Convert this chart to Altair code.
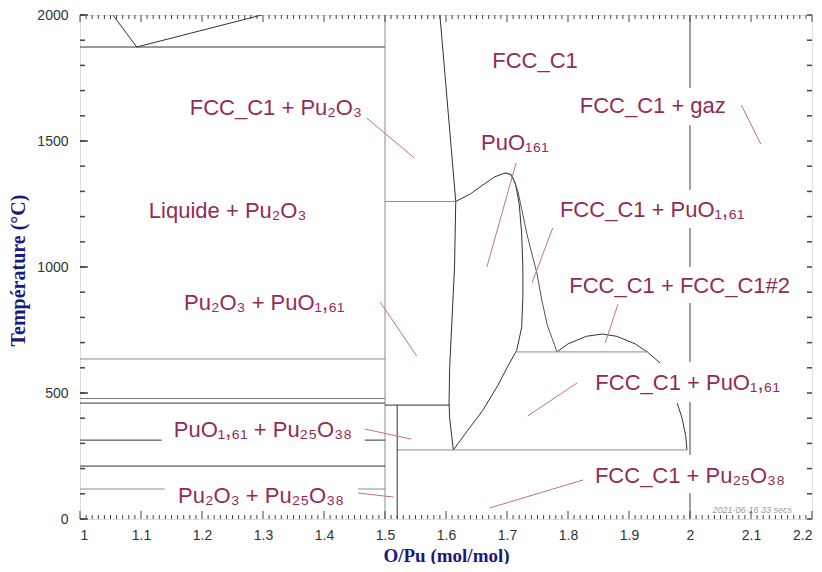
import altair as alt
import pandas as pd

# ---------------- phase boundary polylines (x = O/Pu, t = temperature °C) ----------------
seg_names = ["liq1", "liq2", "h1873", "v150", "fcc_left", "h1260", "hump", "inner", "outer",
             "dome1", "dome2", "h663", "h274", "v152", "h452",
             "h635", "h480", "h460", "h313a", "h313b", "h210", "h119a", "h119b",
             "v2a", "v2b", "v2c", "v2d", "v2e", "v2f"]
seg_colors = ["#333333", "#333333", "#333333", "#8c8c8c", "#333333", "#8c8c8c", "#333333", "#333333", "#555555",
              "#333333", "#333333", "#8c8c8c", "#8c8c8c", "#333333", "#333333",
              "#8c8c8c", "#777777", "#333333", "#333333", "#333333", "#333333", "#8c8c8c", "#8c8c8c",
              "#444444", "#444444", "#444444", "#444444", "#444444", "#444444"]
seg_x = [
    [1.054, 1.093],
    [1.093, 1.298],
    [1.0, 1.5],
    [1.5, 1.5],
    [1.590, 1.616, 1.614, 1.609, 1.606, 1.605, 1.606, 1.612],
    [1.5, 1.616],
    [1.616, 1.64, 1.66, 1.68, 1.697],
    [1.697, 1.706, 1.714, 1.72, 1.724, 1.726, 1.726, 1.724, 1.716, 1.70, 1.685, 1.66, 1.635, 1.612],
    [1.697, 1.708, 1.718, 1.733, 1.749, 1.757, 1.766, 1.782],
    [1.782, 1.80, 1.83, 1.856, 1.88, 1.91, 1.93, 1.951],
    [1.979, 1.987, 1.993, 1.995],
    [1.716, 1.93],
    [1.52, 1.995],
    [1.52, 1.52],
    [1.5, 1.606],
    [1.0, 1.5],
    [1.0, 1.5],
    [1.0, 1.5],
    [1.0, 1.134],
    [1.467, 1.5],
    [1.0, 1.5],
    [1.0, 1.139],
    [1.456, 1.5],
    [2.0, 2.0],
    [2.0, 2.0],
    [2.0, 2.0],
    [2.0, 2.0],
    [2.0, 2.0],
    [2.0, 2.0],
]
seg_t = [
    [2000, 1873],
    [1873, 2000],
    [1873, 1873],
    [0, 2000],
    [2000, 1260, 1000, 750, 600, 460, 400, 274],
    [1260, 1260],
    [1260, 1290, 1325, 1358, 1373],
    [1373, 1368, 1330, 1250, 1135, 1000, 880, 760, 670, 600, 530, 430, 350, 274],
    [1373, 1365, 1300, 1127, 976, 869, 770, 663],
    [663, 695, 725, 734, 725, 695, 663, 619],
    [460, 400, 330, 274],
    [663, 663],
    [274, 274],
    [0, 452],
    [452, 452],
    [635, 635],
    [478, 478],
    [460, 460],
    [313, 313],
    [313, 313],
    [210, 210],
    [119, 119],
    [119, 119],
    [2000, 1710],
    [1563, 1306],
    [1155, 1000],
    [857, 623],
    [464, 254],
    [103, 0],
]

# ---------------- labels ----------------
label_text = ["FCC_C1", "FCC_C1 + Pu₂O₃", "FCC_C1 + gaz", "PuO₁₆₁", "Liquide + Pu₂O₃",
              "FCC_C1 + PuO₁,₆₁", "Pu₂O₃ + PuO₁,₆₁", "FCC_C1 + FCC_C1#2", "FCC_C1 + PuO₁,₆₁",
              "PuO₁,₆₁ + Pu₂₅O₃₈", "FCC_C1 + Pu₂₅O₃₈", "Pu₂O₃ + Pu₂₅O₃₈"]
label_x = [1.746, 1.321, 1.939, 1.713, 1.242, 1.938, 1.302, 1.983, 1.996, 1.300, 2.000, 1.297]
label_t = [1790, 1603, 1611, 1464, 1194, 1198, 829, 897, 512, 325, 143, 63]

# ---------------- leader lines ----------------
lead_x1 = [1.470, 2.084, 1.715, 1.775, 1.492, 1.882, 1.815, 1.467, 1.456, 1.825]
lead_t1 = [1591, 1643, 1413, 1155, 861, 853, 540, 357, 103, 155]
lead_x2 = [1.548, 2.116, 1.667, 1.741, 1.552, 1.861, 1.734, 1.543, 1.514, 1.672]
lead_t2 = [1433, 1488, 1000, 937, 647, 698, 409, 317, 87, 44]

# ---------------- axes ----------------
x_major = [1.0, 1.1, 1.2, 1.3, 1.4, 1.5, 1.6, 1.7, 1.8, 1.9, 2.0, 2.1, 2.2]
y_major = [0, 500, 1000, 1500, 2000]
x_minor = [round(1 + i * 0.01, 2) for i in range(121)]
y_minor = [i * 100 for i in range(21)]

W, H = 732, 504

rows = []
for name, col, xs_, ts_ in zip(seg_names, seg_colors, seg_x, seg_t):
    for i, (xv, tv) in enumerate(zip(xs_, ts_)):
        rows.append({"seg": name, "col": col, "i": i, "x": xv, "t": tv})
seg_df = pd.DataFrame(rows)
lab_df = pd.DataFrame({"text": label_text, "x": label_x, "t": label_t})
lead_df = pd.DataFrame({"x": lead_x1, "t": lead_t1, "x2": lead_x2, "t2": lead_t2})
xmaj_df = pd.DataFrame({"x": x_major})
xmin_df = pd.DataFrame({"x": [v for v in x_minor if abs(v * 10 - round(v * 10)) > 1e-6]})
ymaj_df = pd.DataFrame({"t": y_major})
ymin_df = pd.DataFrame({"t": y_minor})

xs = alt.Scale(domain=[1.0, 2.2], nice=False, zero=False)
ys = alt.Scale(domain=[0, 2000], nice=False, zero=False)

x_axis = alt.Axis(values=x_major, format="~g", labelFont="Liberation Sans", labelFontSize=14,
                  labelColor="#333333", ticks=False, domain=False, grid=False, labelPadding=9,
                  title="O/Pu (mol/mol)", titleFont="Liberation Serif", titleFontSize=19,
                  titleFontWeight="bold", titleColor="#1a1a7e", titleY=42, titleBaseline="alphabetic")
y_axis = alt.Axis(values=y_major, format="d", labelFont="Liberation Sans", labelFontSize=14,
                  labelColor="#333333", ticks=False, domain=False, grid=False, labelPadding=12,
                  title="Température (°C)", titleFont="Liberation Serif", titleFontSize=20,
                  titleFontWeight="bold", titleColor="#1a1a7e", titleX=-62, titleY=255,
                  titleAngle=270, titleAlign="center", titleBaseline="middle")

X = alt.X("x:Q", scale=xs, title="O/Pu (mol/mol)")
Y = alt.Y("t:Q", scale=ys, title="Température (°C)")

lines = alt.Chart(seg_df).mark_line(strokeWidth=1, clip=True).encode(
    x=alt.X("x:Q", scale=xs, axis=x_axis, title="O/Pu (mol/mol)"),
    y=alt.Y("t:Q", scale=ys, axis=y_axis, title="Température (°C)"),
    detail="seg:N",
    order="i:Q",
    color=alt.Color("col:N", scale=None),
)

leaders = alt.Chart(lead_df).mark_rule(color="#c0708f", strokeWidth=1).encode(
    x=X, y=Y, x2="x2:Q", y2="t2:Q",
)

labels = alt.Chart(lab_df).mark_text(font="Liberation Sans", fontSize=22, color="#942a56",
                                     align="center", baseline="alphabetic").encode(
    x=X, y=Y, text="text:N",
)

stamp = alt.Chart(pd.DataFrame({"x": [2.102], "t": [36], "s": ["2021-06-16  33 secs"]})).mark_text(
    font="Liberation Sans", fontSize=9, fontStyle="italic", color="#9a9a9a", align="center"
).encode(x=X, y=Y, text="s:N")

tick_col = "#444444"
bot_maj = alt.Chart(xmaj_df).mark_rule(color=tick_col).encode(
    x=X, y=alt.value(H), y2=alt.value(H - 8))
bot_min = alt.Chart(xmin_df).mark_rule(color=tick_col).encode(
    x=X, y=alt.value(H), y2=alt.value(H - 4))
top_maj = alt.Chart(xmaj_df).mark_rule(color=tick_col).encode(
    x=X, y=alt.value(0), y2=alt.value(7))
top_min = alt.Chart(xmin_df).mark_rule(color=tick_col).encode(
    x=X, y=alt.value(0), y2=alt.value(4))
left_maj = alt.Chart(ymaj_df).mark_rule(color=tick_col, strokeWidth=1.5).encode(
    y=Y, x=alt.value(0), x2=alt.value(8))
left_min = alt.Chart(ymin_df).mark_rule(color=tick_col, strokeWidth=1.5).encode(
    y=Y, x=alt.value(0), x2=alt.value(5))
right_min = alt.Chart(ymin_df).mark_rule(color=tick_col, strokeWidth=1.5).encode(
    y=Y, x=alt.value(W), x2=alt.value(W - 5))

chart = alt.layer(
    lines, leaders, labels, stamp, bot_maj, bot_min, top_maj, top_min, left_maj, left_min, right_min
).properties(
    width=W, height=H,
    autosize=alt.AutoSizeParams(type="none"),
    padding={"left": 72, "top": 7, "right": 2, "bottom": 45},
).configure_view(stroke="#555555", strokeWidth=1.5).configure(background="white")

chart.save("out.html", embed_options={"renderer": "svg", "actions": False})
